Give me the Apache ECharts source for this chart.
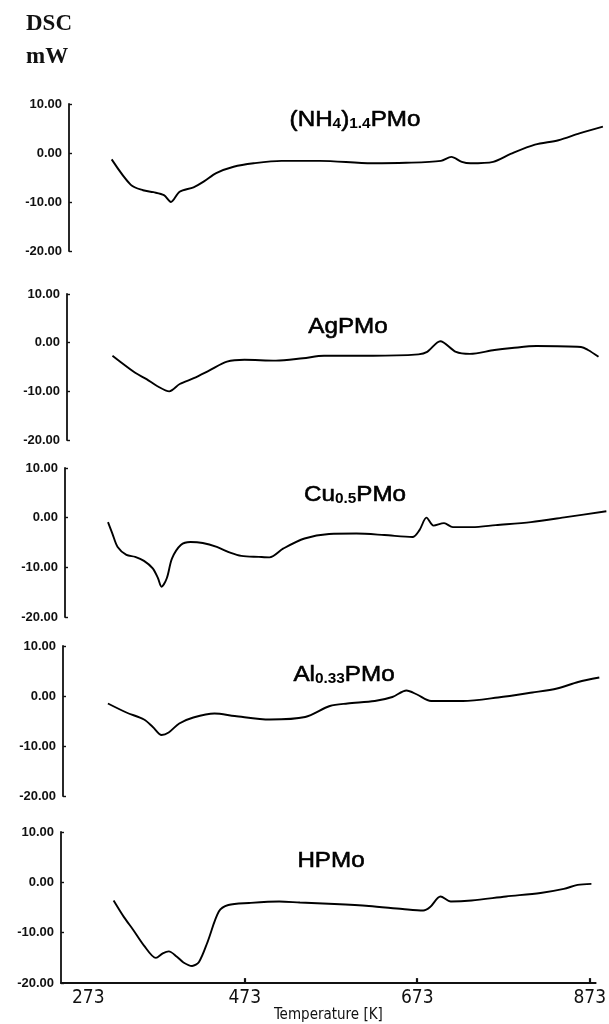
<!DOCTYPE html>
<html>
<head>
<meta charset="utf-8">
<script src="https://cdn.jsdelivr.net/npm/echarts@6/dist/echarts.min.js"></script>
<style>
html,body{margin:0;padding:0;background:#fff;}
#c{width:609px;height:1024px;}
</style>
</head>
<body>
<div id="c"></div>
<script>
// Temperature [K] and DSC [mW] values
const tNH4 = [309, 331, 345, 357, 369, 377, 387, 403, 415, 429, 449, 472, 504, 548, 608, 647, 687, 699, 711, 721, 747, 767, 795, 822, 846, 873];
const dNH4 = [-1.3, -6.5, -7.6, -8.0, -8.6, -10.0, -7.9, -7.0, -5.8, -4.1, -2.8, -2.1, -1.6, -1.6, -2.1, -2.0, -1.6, -0.8, -1.8, -2.1, -1.8, -0.2, 1.7, 2.6, 4.0, 5.4];

const tAg = [312, 338, 351, 363, 377, 389, 405, 423, 443, 463, 499, 530, 554, 610, 662, 672, 687, 705, 721, 749, 769, 797, 848, 856, 868];
const dAg = [-2.7, -6.2, -7.5, -8.9, -10.0, -8.5, -7.3, -5.7, -3.9, -3.5, -3.7, -3.2, -2.7, -2.7, -2.4, -1.9, 0.3, -1.9, -2.3, -1.5, -1.1, -0.7, -0.9, -1.5, -2.9];

const tCu = [309, 314, 320, 330, 340, 350, 360, 366, 370, 376, 382, 392, 403, 417, 433, 449, 461, 481, 493, 509, 533, 561, 592, 624, 656, 664, 672, 680, 692, 702, 724, 751, 791, 831, 877];
const dCu = [-0.9, -3.2, -5.9, -7.5, -7.9, -8.7, -10.2, -12.2, -13.9, -12.2, -8.2, -5.5, -4.9, -5.1, -5.9, -7.1, -7.7, -7.9, -8.0, -6.2, -4.2, -3.3, -3.2, -3.5, -3.9, -2.5, 0.0, -1.6, -1.1, -1.9, -1.9, -1.5, -0.9, 0.1, 1.3];

const tAl = [311, 332, 352, 362, 372, 380, 392, 408, 432, 455, 495, 535, 563, 583, 614, 634, 650, 662, 678, 714, 754, 793, 821, 845, 869];
const dAl = [-1.5, -3.3, -4.7, -6.2, -7.8, -7.3, -5.5, -4.3, -3.5, -4.0, -4.7, -4.2, -2.0, -1.5, -1.0, -0.2, 1.1, 0.3, -1.0, -1.0, -0.3, 0.7, 1.5, 2.8, 3.7];

const tH = [321, 333, 344, 356, 370, 378, 385, 394, 402, 412, 420, 430, 443, 454, 478, 513, 537, 577, 617, 656, 680, 688, 700, 712, 736, 776, 816, 843, 859, 875];
const dH = [-3.6, -6.9, -9.5, -12.5, -15.0, -14.1, -13.7, -14.7, -15.9, -16.6, -15.8, -11.8, -5.8, -4.5, -4.1, -3.8, -4.0, -4.3, -4.7, -5.3, -5.6, -4.9, -2.8, -3.8, -3.6, -2.8, -2.1, -1.3, -0.5, -0.3];

const sampleNames = ['(NH{s|4}){s|1.4}PMo', 'AgPMo', 'Cu{s|0.5}PMo', 'Al{s|0.33}PMo', 'HPMo'];
const xTickLabels = [273, 473, 673, 873];
const xTicks = [473, 673, 873];
const yMin = -20, yMax = 10, yStep = 10;

const series = [[tNH4, dNH4], [tAg, dAg], [tCu, dCu], [tAl, dAl], [tH, dH]];

// layout (pixels)
const panels = [
  {left: 69, top: 104, height: 147, tx: 355, ty: 119},
  {left: 67, top: 294, height: 146, tx: 348, ty: 326},
  {left: 65, top: 468, height: 149, tx: 355, ty: 494},
  {left: 63, top: 646, height: 150, tx: 344, ty: 674},
  {left: 61, top: 832, height: 153, tx: 331, ty: 860}
];
const W = 550;
const ink = '#111';
const sans = "'Liberation Sans', Arial, sans-serif";
const narrow = "'Liberation Sans Narrow', 'DejaVu Sans Condensed', 'Liberation Sans', sans-serif";

const grid = [], xAxis = [], yAxis = [], ser = [], graphic = [];
panels.forEach((p, i) => {
  grid.push({left: p.left, top: p.top, width: W, height: p.height});
  const last = i === panels.length - 1;
  xAxis.push({
    type: 'value', gridIndex: i, min: 260, max: 880,
    show: true,
    axisLine: {show: last, onZero: false, lineStyle: {color: ink, width: 1.8}},
    axisTick: {show: last, inside: true, length: 5, customValues: xTicks, lineStyle: {color: ink, width: 2.2}},
    axisLabel: last ? {
      show: true, customValues: xTickLabels, margin: 5,
      color: ink, fontSize: 19, fontFamily: narrow,
      formatter: v => v === 273 ? '{f|273}' : String(v),
      rich: {f: {padding: [0, 0, 0, 32], fontSize: 19, fontFamily: narrow, color: ink}}
    } : {show: false},
    splitLine: {show: false},
    name: last ? 'Temperature [K]' : '',
    nameLocation: 'middle', nameGap: 23,
    nameTextStyle: {color: ink, fontSize: 15, fontFamily: narrow}
  });
  yAxis.push({
    type: 'value', gridIndex: i, min: yMin, max: yMax, interval: yStep,
    axisLine: {show: true, lineStyle: {color: ink, width: 1.8}},
    axisTick: {show: true, inside: true, length: 3, lineStyle: {color: ink, width: 1.4}},
    axisLabel: {formatter: v => v.toFixed(2), color: ink, fontSize: 13, fontWeight: 'bold', fontFamily: sans, margin: 7},
    splitLine: {show: false}
  });
  const [t, d] = series[i];
  ser.push({
    type: 'line', xAxisIndex: i, yAxisIndex: i,
    data: t.map((x, k) => [x, d[k]]),
    showSymbol: false, symbol: 'none', smooth: 0.3,
    lineStyle: {color: '#000', width: 1.9},
    animation: false
  });
  graphic.push({
    type: 'text', x: p.tx, y: p.ty, scaleX: 1.1,
    style: {
      text: sampleNames[i].replace(/(^|\})([^{}]+?)(?=\{|$)/g, (m, a, b) => a + '{m|' + b + '}'),
      align: 'center', verticalAlign: 'middle',
      rich: {
        m: {fontSize: 22, fontFamily: sans, fill: '#000', stroke: '#000', lineWidth: 0.6, lineHeight: 24, verticalAlign: 'bottom'},
        s: {fontSize: 14, fontWeight: 'bold', fontFamily: sans, fill: '#000', lineHeight: 14, verticalAlign: 'bottom'}
      }
    }
  });
});

graphic.push({type: 'text', x: 26, y: 24, style: {text: 'DSC', font: "bold 23px 'Liberation Serif', 'Times New Roman', serif", fill: ink, verticalAlign: 'middle'}});
graphic.push({type: 'text', x: 26, y: 57, style: {text: 'mW', font: "bold 23px 'Liberation Serif', 'Times New Roman', serif", fill: ink, verticalAlign: 'middle'}});

const chart = echarts.init(document.getElementById('c'), null, {renderer: 'canvas'});
chart.setOption({
  animation: false,
  backgroundColor: '#fff',
  grid, xAxis, yAxis, series: ser, graphic
});
</script>
</body>
</html>
